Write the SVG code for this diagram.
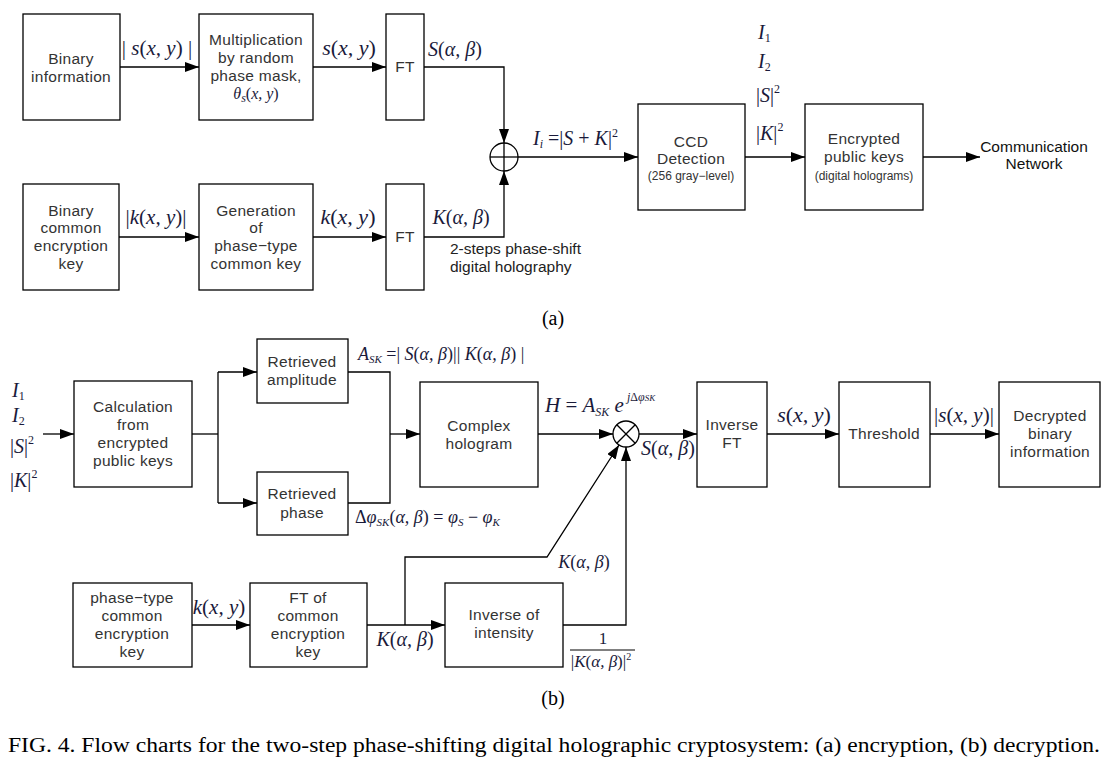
<svg xmlns="http://www.w3.org/2000/svg" width="1118" height="766" viewBox="0 0 1118 766">
<style>
.box{fill:#fff;stroke:#000;stroke-width:1.3}
.t{font-family:"Liberation Sans",Arial,sans-serif;font-size:15.5px;fill:#333;text-anchor:middle;letter-spacing:0.3px}
.ts{font-family:"Liberation Sans",Arial,sans-serif;font-size:12px;fill:#333;text-anchor:middle}
.tb{font-family:"Liberation Sans",Arial,sans-serif;font-size:15.5px;fill:#111}
.m{font-family:"Liberation Serif","Times New Roman",serif;font-style:italic;font-size:20px;fill:#1a1a3a}
.u{font-style:normal}
.sub{font-size:12px}
.cap{font-family:"Liberation Serif","Times New Roman",serif;font-size:20px;fill:#000}
.ln{fill:none;stroke:#000;stroke-width:1.3}
.ar{fill:none;stroke:#000;stroke-width:1.3;marker-end:url(#ah)}
</style>
<defs>
<marker id="ah" markerUnits="userSpaceOnUse" markerWidth="14" markerHeight="10" refX="14" refY="5" orient="auto">
<path d="M0,0 L14,5 L0,10 z" fill="#000"/>
</marker>
</defs>

<g id="connectors">
<line class="ar" x1="120" y1="67" x2="199" y2="67"/>
<line class="ar" x1="313" y1="67" x2="386" y2="67"/>
<polyline class="ar" points="424,67 504,67 504,143"/>
<line class="ar" x1="119" y1="237" x2="199" y2="237"/>
<line class="ar" x1="313" y1="237" x2="386" y2="237"/>
<polyline class="ar" points="424,237 504,237 504,171"/>
<line class="ar" x1="518" y1="157" x2="638" y2="157"/>
<line class="ar" x1="745" y1="157" x2="805" y2="157"/>
<line class="ar" x1="923" y1="157" x2="980" y2="157"/>

<line class="ar" x1="43" y1="434" x2="74" y2="434"/>
<line class="ln" x1="192" y1="434" x2="218" y2="434"/>
<line class="ln" x1="218" y1="372" x2="218" y2="503"/>
<line class="ar" x1="218" y1="372" x2="257" y2="372"/>
<line class="ar" x1="218" y1="503" x2="257" y2="503"/>
<polyline class="ln" points="348,372 390,372 390,503 348,503"/>
<line class="ar" x1="390" y1="434" x2="420" y2="434"/>
<line class="ar" x1="538" y1="434" x2="613" y2="434"/>
<line class="ar" x1="639" y1="434" x2="697" y2="434"/>
<line class="ar" x1="767" y1="434" x2="839" y2="434"/>
<line class="ar" x1="930" y1="434" x2="999" y2="434"/>
<line class="ar" x1="192" y1="625" x2="250" y2="625"/>
<line class="ar" x1="367" y1="625" x2="445" y2="625"/>
<polyline class="ar" points="405,625 405,557 547,557 619,445"/>
<polyline class="ar" points="563,625 626,625 626,447"/>
</g>

<g id="sum">
<circle cx="504" cy="157" r="14" class="ln"/>
<line class="ln" x1="490" y1="157" x2="518" y2="157"/>
<line class="ln" x1="504" y1="143" x2="504" y2="171"/>
</g>
<g id="mult">
<circle cx="626" cy="434" r="13" class="ln"/>
<line class="ln" x1="616.8" y1="424.8" x2="635.2" y2="443.2"/>
<line class="ln" x1="635.2" y1="424.8" x2="616.8" y2="443.2"/>
</g>

<g id="binary-info">
<rect class="box" x="23" y="14" width="97" height="106"/>
<text class="t" x="71" y="64">Binary</text>
<text class="t" x="71" y="82">information</text>
</g>
<g id="multiplication">
<rect class="box" x="199" y="14" width="114" height="106"/>
<text class="t" x="256" y="45">Multiplication</text>
<text class="t" x="256" y="63">by random</text>
<text class="t" x="256" y="81">phase mask,</text>
<text class="m" x="256" y="99" text-anchor="middle" style="font-size:16px">θ<tspan class="sub" dy="3">s</tspan><tspan class="u" dy="-3">(</tspan>x, y<tspan class="u">)</tspan></text>
</g>
<g id="ft-top">
<rect class="box" x="386" y="14" width="38" height="106"/>
<text class="t" x="405" y="72">FT</text>
</g>
<g id="binary-key">
<rect class="box" x="23" y="184" width="96" height="106"/>
<text class="t" x="71" y="216">Binary</text>
<text class="t" x="71" y="233">common</text>
<text class="t" x="71" y="251">encryption</text>
<text class="t" x="71" y="269">key</text>
</g>
<g id="generation">
<rect class="box" x="199" y="184" width="114" height="106"/>
<text class="t" x="256" y="216">Generation</text>
<text class="t" x="256" y="233">of</text>
<text class="t" x="256" y="251">phase−type</text>
<text class="t" x="256" y="269">common key</text>
</g>
<g id="ft-bottom">
<rect class="box" x="386" y="184" width="38" height="106"/>
<text class="t" x="405" y="242">FT</text>
</g>
<g id="ccd">
<rect class="box" x="638" y="104" width="107" height="106"/>
<text class="t" x="691" y="147">CCD</text>
<text class="t" x="691" y="164">Detection</text>
<text class="ts" x="691" y="180">(256 gray−level)</text>
</g>
<g id="encrypted">
<rect class="box" x="805" y="104" width="118" height="106"/>
<text class="t" x="864" y="144">Encrypted</text>
<text class="t" x="864" y="162">public keys</text>
<text class="ts" x="864" y="180">(digital holograms)</text>
</g>
<g id="network">
<text class="tb" x="1034" y="152" text-anchor="middle">Communication</text>
<text class="tb" x="1034" y="169" text-anchor="middle">Network</text>
</g>

<g id="labels-a">
<text class="m" x="157" y="55" text-anchor="middle" style="font-size:21px"><tspan class="u">|</tspan> s<tspan class="u">(</tspan>x, y<tspan class="u">)</tspan> <tspan class="u">|</tspan></text>
<text class="m" x="349" y="55" text-anchor="middle" style="font-size:22px">s<tspan class="u">(</tspan>x, y<tspan class="u">)</tspan></text>
<text class="m" x="455" y="56" text-anchor="middle">S<tspan class="u">(</tspan>α, β<tspan class="u">)</tspan></text>
<text class="m" x="156" y="224" text-anchor="middle" style="font-size:21px"><tspan class="u">|</tspan>k<tspan class="u">(</tspan>x, y<tspan class="u">)</tspan><tspan class="u">|</tspan></text>
<text class="m" x="348" y="224" text-anchor="middle" style="font-size:22px">k<tspan class="u">(</tspan>x, y<tspan class="u">)</tspan></text>
<text class="m" x="461" y="224" text-anchor="middle">K<tspan class="u">(</tspan>α, β<tspan class="u">)</tspan></text>
<text class="m" x="533" y="145">I<tspan class="sub" dy="3">i</tspan><tspan class="u" dy="-3"> =|</tspan>S<tspan class="u"> + </tspan>K<tspan class="u">|</tspan><tspan class="u sub" dy="-8">2</tspan></text>
<text class="tb" x="450" y="254" style="fill:#222">2-steps phase-shift</text>
<text class="tb" x="450" y="272" style="fill:#222">digital holography</text>
<text class="m" x="758" y="39">I<tspan class="u sub" dy="3">1</tspan></text>
<text class="m" x="758" y="68">I<tspan class="u sub" dy="3">2</tspan></text>
<text class="m" x="756" y="102"><tspan class="u">|</tspan>S<tspan class="u">|</tspan><tspan class="u sub" dy="-9">2</tspan></text>
<text class="m" x="756" y="140"><tspan class="u">|</tspan>K<tspan class="u">|</tspan><tspan class="u sub" dy="-9">2</tspan></text>
<text class="cap" x="553" y="325" text-anchor="middle">(a)</text>
</g>

<g id="calculation">
<rect class="box" x="74" y="381" width="118" height="106"/>
<text class="t" x="133" y="412">Calculation</text>
<text class="t" x="133" y="430">from</text>
<text class="t" x="133" y="448">encrypted</text>
<text class="t" x="133" y="466">public keys</text>
</g>
<g id="retrieved-amplitude">
<rect class="box" x="257" y="339" width="91" height="64"/>
<text class="t" x="302" y="367">Retrieved</text>
<text class="t" x="302" y="385">amplitude</text>
</g>
<g id="retrieved-phase">
<rect class="box" x="257" y="472" width="91" height="63"/>
<text class="t" x="302" y="499">Retrieved</text>
<text class="t" x="302" y="518">phase</text>
</g>
<g id="complex-hologram">
<rect class="box" x="420" y="382" width="118" height="105"/>
<text class="t" x="479" y="431">Complex</text>
<text class="t" x="479" y="449">hologram</text>
</g>
<g id="inverse-ft">
<rect class="box" x="697" y="382" width="70" height="105"/>
<text class="t" x="732" y="430">Inverse</text>
<text class="t" x="732" y="448">FT</text>
</g>
<g id="threshold">
<rect class="box" x="839" y="382" width="91" height="105"/>
<text class="t" x="884" y="439">Threshold</text>
</g>
<g id="decrypted">
<rect class="box" x="999" y="382" width="101" height="105"/>
<text class="t" x="1050" y="421">Decrypted</text>
<text class="t" x="1050" y="439">binary</text>
<text class="t" x="1050" y="457">information</text>
</g>
<g id="phase-type-key">
<rect class="box" x="73" y="583" width="119" height="84"/>
<text class="t" x="132" y="603">phase−type</text>
<text class="t" x="132" y="621">common</text>
<text class="t" x="132" y="639">encryption</text>
<text class="t" x="132" y="657">key</text>
</g>
<g id="ft-common">
<rect class="box" x="250" y="583" width="117" height="84"/>
<text class="t" x="308" y="603">FT of</text>
<text class="t" x="308" y="621">common</text>
<text class="t" x="308" y="639">encryption</text>
<text class="t" x="308" y="657">key</text>
</g>
<g id="inverse-intensity">
<rect class="box" x="445" y="583" width="118" height="84"/>
<text class="t" x="504" y="620">Inverse of</text>
<text class="t" x="504" y="638">intensity</text>
</g>

<g id="labels-b">
<text class="m" x="12" y="397">I<tspan class="u sub" dy="3">1</tspan></text>
<text class="m" x="12" y="422">I<tspan class="u sub" dy="3">2</tspan></text>
<text class="m" x="10" y="453"><tspan class="u">|</tspan>S<tspan class="u">|</tspan><tspan class="u sub" dy="-9">2</tspan></text>
<text class="m" x="10" y="487"><tspan class="u">|</tspan>K<tspan class="u">|</tspan><tspan class="u sub" dy="-9">2</tspan></text>
<text class="m" x="358" y="360" style="font-size:18px">A<tspan class="sub" dy="3" style="font-size:11px">SK</tspan><tspan class="u" dy="-3"> =| </tspan>S<tspan class="u">(</tspan>α, β<tspan class="u">)|| </tspan>K<tspan class="u">(</tspan>α, β<tspan class="u">) |</tspan></text>
<text class="m" x="355" y="523" style="font-size:18px"><tspan class="u">Δ</tspan>φ<tspan class="sub" dy="3" style="font-size:11px">SK</tspan><tspan class="u" dy="-3">(</tspan>α, β<tspan class="u">) = </tspan>φ<tspan class="sub" dy="3" style="font-size:11px">S</tspan><tspan class="u" dy="-3"> − </tspan>φ<tspan class="sub" dy="3" style="font-size:11px">K</tspan></text>
<text class="m" x="545" y="412" style="font-size:21px">H<tspan class="u"> = </tspan>A<tspan class="sub" dy="4">SK</tspan><tspan dy="-4"> e</tspan><tspan class="sub" dy="-11"> j<tspan class="u">Δ</tspan>φ<tspan style="font-size:9px">SK</tspan></tspan></text>
<text class="m" x="641" y="455">S<tspan class="u">(</tspan>α, β<tspan class="u">)</tspan></text>
<text class="m" x="804" y="422" text-anchor="middle" style="font-size:22px">s<tspan class="u">(</tspan>x, y<tspan class="u">)</tspan></text>
<text class="m" x="964" y="422" text-anchor="middle" style="font-size:21px"><tspan class="u">|</tspan>s<tspan class="u">(</tspan>x, y<tspan class="u">)|</tspan></text>
<text class="m" x="219" y="614" text-anchor="middle" style="font-size:21px">k<tspan class="u">(</tspan>x, y<tspan class="u">)</tspan></text>
<text class="m" x="405" y="646" text-anchor="middle">K<tspan class="u">(</tspan>α, β<tspan class="u">)</tspan></text>
<text class="m" x="584" y="568" text-anchor="middle" style="font-size:18px">K<tspan class="u">(</tspan>α, β<tspan class="u">)</tspan></text>
<text class="m" x="603" y="644" text-anchor="middle" style="font-size:17px"><tspan class="u">1</tspan></text>
<line class="ln" x1="570" y1="650" x2="635" y2="650" style="stroke-width:1"/>
<text class="m" x="601" y="667" text-anchor="middle" style="font-size:17px"><tspan class="u">|</tspan>K<tspan class="u">(</tspan>α, β<tspan class="u">)|</tspan><tspan class="u sub" dy="-7" style="font-size:10px">2</tspan></text>
<text class="cap" x="553" y="705" text-anchor="middle">(b)</text>
</g>

<g id="caption">
<text class="cap" x="8" y="752" textLength="1092" lengthAdjust="spacingAndGlyphs">FIG. 4. Flow charts for the two-step phase-shifting digital holographic cryptosystem: (a) encryption, (b) decryption.</text>
</g>
</svg>
